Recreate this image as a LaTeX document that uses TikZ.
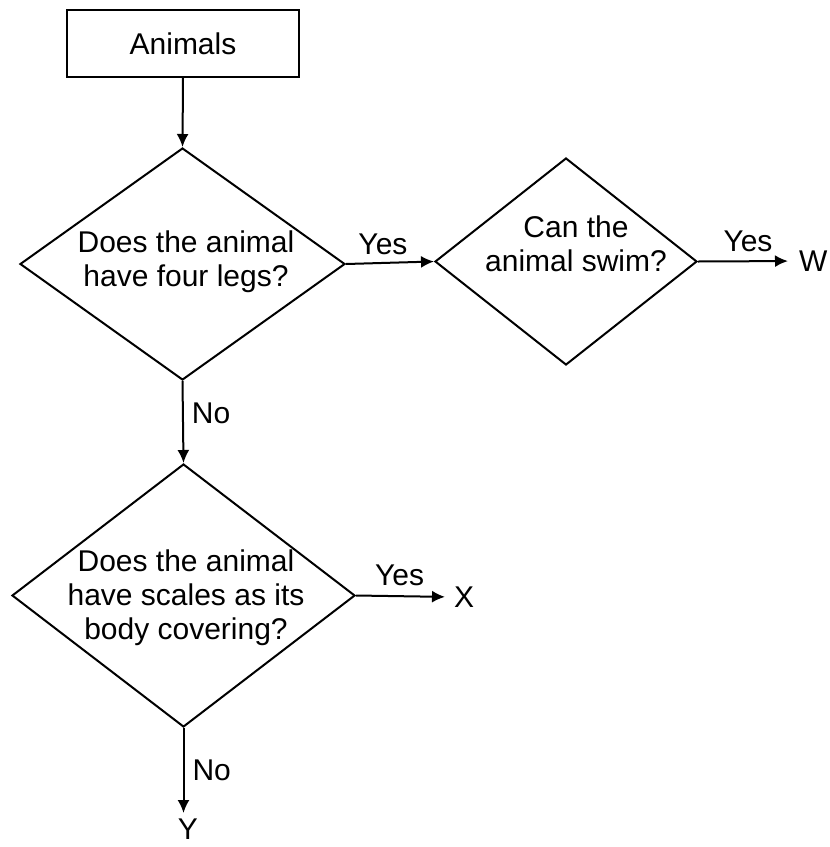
\documentclass[tikz,border=0pt]{standalone}
\usepackage{fontspec}
\setmainfont{Liberation Sans}
\usetikzlibrary{shapes.geometric,arrows.meta}
\begin{document}
\begin{tikzpicture}[x=1pt,y=-1pt,line width=2pt,
    every node/.style={font=\fontsize{30}{34}\selectfont},
    decision/.style={draw, diamond, inner sep=0pt},
    qtext/.style={align=center, inner sep=0pt},
    arr/.style={-{Latex[length=13pt,width=12pt]}}]
    \useasboundingbox (0,0) rectangle (830,847);
    \node[draw, minimum width=232pt, minimum height=67pt] (animals) at (183,43.5) {Animals};
    \node[decision, minimum width=325pt, minimum height=232pt] (legs) at (182.5,264) {};
    \node[qtext] (legstext) at (186,262) {Does the animal\\have four legs?};
    \node[decision, minimum width=262pt, minimum height=207pt] (swim) at (566,261.5) {};
    \node[qtext] (swimtext) at (576,243.5) {Can the\\animal swim?};
    \node[decision, minimum width=343pt, minimum height=263pt] (scales) at (183.5,595.5) {};
    \node[qtext] (scalestext) at (186,598) {Does the animal\\have scales as its\\body covering?};
    \node[anchor=west, inner sep=0pt] (w) at (798,261) {W};
    \node[anchor=west, inner sep=0pt] (x) at (453,597) {X};
    \node[anchor=north, inner sep=0pt] (y) at (188,818) {Y};
    \draw[arr] (animals.south) -- (legs.north);
    \draw[arr] (legs.east) -- node[pos=.42, above=7pt, inner sep=0pt] {Yes} (swim.west);
    \draw[arr, shorten >=10pt] (swim.east) -- node[pos=.5, above=8pt, inner sep=0pt] {Yes} (w.west);
    \draw[arr] (legs.south) -- node[pos=.4, right=8pt, inner sep=0pt] {No} (scales.north);
    \draw[arr, shorten >=8pt] (scales.east) -- node[pos=.45, above=9pt, inner sep=0pt] {Yes} (x.west);
    \draw[arr, shorten >=5pt] (scales.south) -- node[pos=.47, right=8pt, inner sep=0pt] {No} (scales.south |- y.north);
\end{tikzpicture}
\end{document}
